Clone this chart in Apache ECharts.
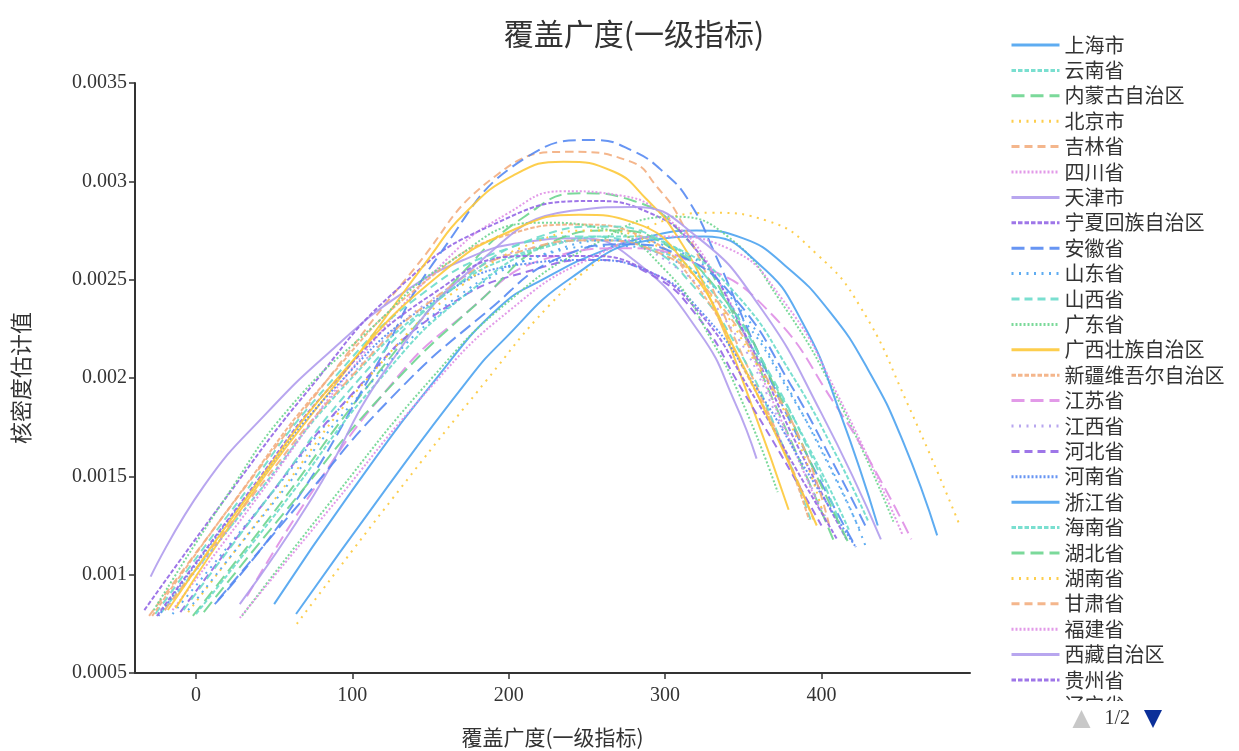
<!DOCTYPE html>
<html>
<head>
<meta charset="utf-8">
<script src="https://cdn.jsdelivr.net/npm/echarts@6/dist/echarts.min.js"></script>
<style>
html,body{margin:0;padding:0;background:#ffffff;}
#chart{width:1239px;height:751px;}
</style>
</head>
<body>
<div id="chart"></div>
<script>
// ---- data (x = 覆盖广度, y = 核密度估计值) ----
const provinces = ['上海市','云南省','内蒙古自治区','北京市','吉林省','四川省','天津市','宁夏回族自治区','安徽省','山东省','山西省','广东省','广西壮族自治区','新疆维吾尔自治区','江苏省','江西省','河北省','河南省','浙江省','海南省','湖北省','湖南省','甘肃省','福建省','西藏自治区','贵州省','辽宁省','重庆市','陕西省','青海省','黑龙江省'];

const shanghai = [[50,0.00085],[100,0.00143],[153,0.00199],[194,0.00236],[224,0.00251],[258,0.00264],[290,0.00272],[320,0.00275],[350,0.00271],[377,0.00257],[405,0.00234],[430,0.00204],[452,0.00168],[474,0.0012]];
const yunnan = [[-22,0.00081],[35,0.00137],[95,0.00196],[155,0.0024],[210,0.00264],[255,0.0027],[295,0.00265],[330,0.00244],[365,0.00203],[395,0.0016],[418,0.00122]];
const neimenggu = [[-2,0.00079],[50,0.00132],[110,0.00196],[170,0.00253],[210,0.00282],[246,0.00294],[280,0.0029],[310,0.00274],[340,0.00238],[375,0.00178],[408,0.00117]];
const beijing = [[64.5,0.00075],[125,0.00138],[186,0.00199],[226,0.00237],[258,0.0026],[290,0.00277],[330,0.00284],[365,0.0028],[397,0.00263],[425,0.00236],[455,0.00187],[489,0.00124]];
const jilin = [[-30,0.00079],[30,0.00143],[80,0.00195],[139,0.00255],[192,0.00303],[239,0.00315],[278,0.0031],[295,0.00297],[310,0.0028],[340,0.00228],[370,0.00175],[395,0.00128]];
const sichuan = [[-15,0.00082],[40,0.0014],[100,0.00205],[160,0.0026],[200,0.00284],[235,0.00295],[270,0.00293],[300,0.00282],[330,0.00255],[365,0.00195],[398,0.00135]];
const tianjin = [[-29,0.00099],[5,0.00145],[45,0.00182],[88,0.00215],[130,0.00242],[171,0.0026],[210,0.00269],[245,0.00271],[280,0.0026],[322,0.00223],[345,0.00187],[358.5,0.00159]];
const ningxia = [[-33,0.00082],[20,0.0014],[70,0.00192],[130,0.00246],[190,0.00278],[252,0.0029],[290,0.00284],[320,0.00265],[350,0.00224],[385,0.00165],[416,0.00118]];
const anhui = [[12,0.00085],[60,0.00133],[113,0.00203],[155,0.00262],[213,0.00313],[254,0.00321],[278,0.00316],[300,0.00304],[316,0.00289],[332,0.00263],[360,0.00212],[390,0.00162],[422,0.00114]];
const shandong = [[-15,0.0008],[45,0.00138],[105,0.00196],[165,0.0024],[220,0.00262],[265,0.00267],[305,0.0026],[345,0.00234],[380,0.00192],[410,0.00148],[428,0.00115]];
const shanxi = [[-26,0.0008],[25,0.00135],[85,0.00197],[145,0.00243],[200,0.00266],[245,0.00272],[285,0.00267],[320,0.00245],[350,0.0021],[372,0.00172],[393,0.00128]];
const guangdong = [[29.4,0.00079],[84,0.00135],[152,0.00201],[200,0.00239],[250,0.00266],[305,0.00282],[340,0.00272],[373,0.0024],[410,0.0019],[446,0.00127]];
const guangxi = [[-13,0.00083],[42,0.00148],[100,0.00208],[150,0.00262],[171,0.00283],[203,0.00303],[235,0.0031],[267,0.00305],[288,0.00291],[307,0.00273],[329,0.0024],[355,0.00187],[379,0.00133]];
const xinjiang = [[-28,0.00079],[25,0.00138],[85,0.002],[145,0.00248],[200,0.00273],[245,0.00278],[285,0.00272],[320,0.00247],[350,0.00205],[375,0.00165],[392,0.00128]];
const jiangsu = [[32.6,0.00089],[75,0.00143],[122,0.00194],[165,0.00228],[230,0.00262],[275,0.00266],[320,0.00258],[365,0.00235],[410,0.00185],[435,0.00152],[457.5,0.00118]];
const jiangxi = [[-20,0.00082],[40,0.00142],[100,0.00202],[160,0.00245],[220,0.00267],[260,0.0027],[300,0.0026],[340,0.00228],[375,0.00175],[405,0.00125]];
const hebei = [[-10,0.00081],[40,0.00133],[100,0.00192],[160,0.00236],[220,0.00256],[255,0.0026],[290,0.00253],[320,0.00232],[350,0.00193],[380,0.00153],[400,0.00125]];
const henan = [[-24,0.00079],[30,0.00137],[90,0.00196],[150,0.00238],[210,0.00258],[250,0.0026],[290,0.00254],[325,0.00232],[360,0.00193],[395,0.00147],[422,0.00114]];
const zhejiang = [[64,0.0008],[120,0.00142],[174,0.00199],[195,0.00218],[240,0.00251],[290,0.0027],[325,0.00272],[360,0.00258],[388,0.00228],[412,0.00182],[436,0.00125]];
const hainan = [[0,0.0008],[55,0.00135],[115,0.00197],[175,0.00244],[230,0.00268],[270,0.00272],[310,0.00265],[345,0.00243],[380,0.00203],[410,0.0016],[430,0.00127]];
const hubei = [[5,0.00081],[60,0.00135],[120,0.00192],[180,0.00238],[230,0.0027],[265,0.00275],[300,0.00268],[340,0.00238],[370,0.00196],[400,0.00145],[418,0.00115]];
const hunan = [[-5,0.00081],[50,0.00138],[110,0.002],[170,0.00247],[220,0.0027],[255,0.00275],[290,0.00269],[325,0.00246],[360,0.00205],[385,0.00168],[402,0.00128]];
const gansu = [[-20,0.00082],[35,0.00139],[95,0.00197],[155,0.00242],[210,0.00265],[255,0.0027],[295,0.00264],[330,0.00242],[365,0.002],[390,0.00162],[405,0.00125]];
const fujian = [[28,0.00078],[84,0.00132],[152,0.00197],[200,0.00234],[250,0.0026],[300,0.00272],[340,0.00266],[375,0.0024],[410,0.00192],[452,0.0012]];
const xizang = [[28,0.00085],[75,0.0014],[122,0.00205],[180,0.00258],[240,0.00285],[280,0.00287],[320,0.00272],[360,0.00237],[400,0.00182],[438,0.00118]];
const guizhou = [[-25,0.00079],[30,0.00138],[90,0.00199],[150,0.00242],[210,0.00262],[250,0.00262],[285,0.00256],[320,0.00235],[355,0.00193],[385,0.00152],[410,0.00118]];
const liaoning = [[14,0.00087],[65,0.00135],[125,0.0019],[185,0.00233],[235,0.00262],[275,0.00268],[310,0.00262],[345,0.0024],[380,0.00197],[410,0.00153],[428,0.00125]];
const chongqing = [[-5,0.00082],[50,0.00137],[110,0.00196],[170,0.00241],[230,0.00265],[270,0.0027],[310,0.00264],[345,0.00238],[375,0.002],[405,0.00155],[425,0.00122]];
const shaanxi = [[-8,0.00082],[45,0.00138],[105,0.002],[165,0.00246],[220,0.00272],[260,0.00277],[295,0.00271],[330,0.00248],[365,0.00205],[395,0.00158],[412,0.00126]];
const qinghai = [[-27,0.00082],[18,0.00138],[60,0.00185],[113,0.00226],[160,0.00258],[220,0.00279],[260,0.00276],[300,0.00255],[330,0.00219],[352,0.00183],[372,0.00142]];
const heilongjiang = [[-18,0.00082],[35,0.00142],[95,0.00204],[155,0.00252],[205,0.00276],[245,0.00283],[280,0.00279],[315,0.00256],[345,0.00214],[375,0.00164],[397,0.00125]];

const curves = [shanghai,yunnan,neimenggu,beijing,jilin,sichuan,tianjin,ningxia,anhui,shandong,shanxi,guangdong,guangxi,xinjiang,jiangsu,jiangxi,hebei,henan,zhejiang,hainan,hubei,hunan,gansu,fujian,xizang,guizhou,liaoning,chongqing,shaanxi,qinghai,heilongjiang];

const xTickValues = [0,100,200,300,400];

// ---- styles ----
const palette = ['#4da3f0','#6cdccb','#6dd58f','#fdc93a','#f3ae80','#df8fe6','#b09ced','#9467e6','#5689f2'];
const dashTypes = ['solid',[4.5,2],[13,6],[2,5.5],[8,5],[2,2]];
const cjk = 'Noto Sans CJK SC';
const serif = 'Liberation Serif';

const chart = echarts.init(document.getElementById('chart'), null, {renderer:'canvas'});

const series = provinces.map((name,i)=>({
  name: name,
  type: 'line',
  data: curves[i],
  smooth: 0.5,
  symbol: 'none',
  showSymbol: false,
  lineStyle: {width: 2, type: dashTypes[i % 6], color: palette[i % 9], opacity: 0.9},
  itemStyle: {color: palette[i % 9]},
  emphasis: {disabled: true}
}));

chart.setOption({
  animation: false,
  backgroundColor: '#ffffff',
  title: {
    text: '覆盖广度(一级指标)',
    left: 629,
    textAlign: 'center',
    top: 14,
    textStyle: {fontSize: 30, fontWeight: 'normal', color: '#333', fontFamily: cjk}
  },
  legend: {
    type: 'scroll',
    orient: 'vertical',
    left: 1005,
    top: 30,
    height: 694,
    itemWidth: 48,
    itemHeight: 14,
    itemGap: 5.4,
    data: provinces,
    textStyle: {fontSize: 20, color: '#333', fontFamily: cjk},
    lineStyle: {width: 3},
    itemStyle: {opacity: 0},
    pageIconColor: '#0b2f99',
    pageIconInactiveColor: '#c8c8c8',
    pageIconSize: 18,
    pageButtonItemGap: 4,
    pageButtonGap: 8,
    pageTextStyle: {fontSize: 20, color: '#333', fontFamily: serif}
  },
  grid: {left: 135, right: 269, top: 83, bottom: 78, outerBoundsMode: 'none', containLabel: false},
  xAxis: {
    type: 'value',
    min: -39,
    max: 495,
    name: '覆盖广度(一级指标)',
    nameLocation: 'middle',
    nameGap: 54,
    nameTextStyle: {fontSize: 21, color: '#333', fontFamily: cjk},
    axisLine: {onZero: false, lineStyle: {color: '#333', width: 2}},
    axisTick: {show: true, length: 6, customValues: xTickValues, lineStyle: {color: '#333', width: 1.5}},
    axisLabel: {customValues: xTickValues, fontSize: 20, color: '#333', fontFamily: serif, margin: 13},
    splitLine: {show: false}
  },
  yAxis: {
    type: 'value',
    min: 0.0005,
    max: 0.0035,
    interval: 0.0005,
    name: '核密度估计值',
    nameLocation: 'middle',
    nameGap: 103,
    nameTextStyle: {fontSize: 22, color: '#333', fontFamily: cjk},
    axisLine: {show: true, onZero: false, lineStyle: {color: '#333', width: 2}},
    axisTick: {show: true, length: 6, lineStyle: {color: '#333', width: 1.5}},
    axisLabel: {fontSize: 20, color: '#333', fontFamily: serif, margin: 8,
      formatter: v => String(+v.toFixed(4))},
    splitLine: {show: false}
  },
  series: series
});
</script>
</body>
</html>
